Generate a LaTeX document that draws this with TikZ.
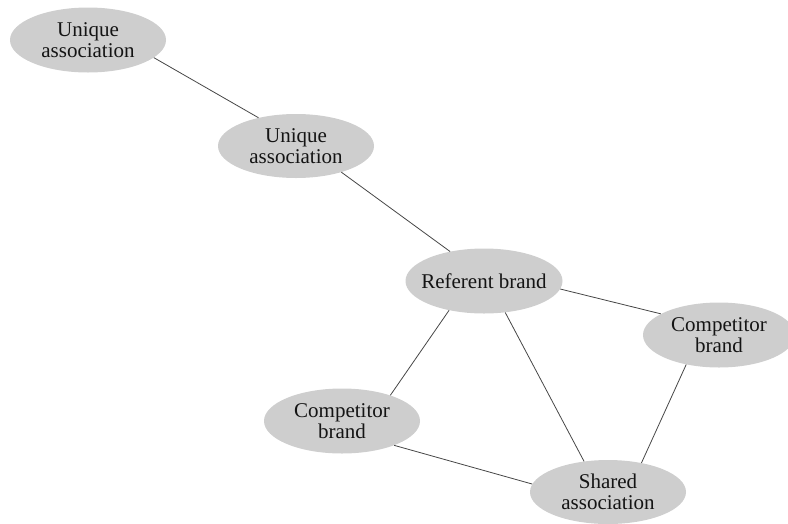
\documentclass[tikz,border=0pt]{standalone}
\usepackage{fontspec}
\setmainfont{Liberation Serif}
\usetikzlibrary{shapes.geometric}
\definecolor{bubble}{RGB}{206,206,206}
\definecolor{edgeline}{RGB}{70,70,70}
\definecolor{labeltext}{RGB}{20,20,20}
\begin{document}
\begin{tikzpicture}[x=1pt,y=-1pt,
  bubblenode/.style={ellipse,fill=bubble,draw=none,inner sep=0pt,
    minimum width=156pt,minimum height=65pt,
    label={[bubbletext]center:{#1}}},
  bubbletext/.style={align=center,inner sep=0pt,text=labeltext,
    font=\fontsize{21}{20.5}\selectfont},
  link/.style={draw=edgeline,line width=0.8pt}]
\useasboundingbox (0,0) rectangle (788,523);
\begin{scope}
\clip (0,0) rectangle (788,523);
\node[bubblenode={Unique\\association}] (u1) at (88,40) {};
\node[bubblenode={Unique\\association},minimum height=64pt] (u2) at (296,146) {};
\node[bubblenode={Referent brand},minimum width=157pt] (ref) at (484,281) {};
\node[bubblenode={Competitor\\brand},minimum width=152pt] (cr) at (719,335) {};
\node[bubblenode={Competitor\\brand}] (cl) at (342,421) {};
\node[bubblenode={Shared\\association},minimum height=64pt] (sh) at (608,492) {};
\end{scope}
% connectors meet the ellipses at fixed border angles
\draw[link] (u1.-15)   -- (u2.143);
\draw[link] (u2.-30)   -- (ref.139);
\draw[link] (ref.-6)   -- (cr.160);
\draw[link] (ref.-140) -- (cl.28);
\draw[link] (ref.-56)  -- (sh.128);
\draw[link] (cr.-138)  -- (sh.41);
\draw[link] (cl.-25)   -- (sh.174);
\end{tikzpicture}
\end{document}
